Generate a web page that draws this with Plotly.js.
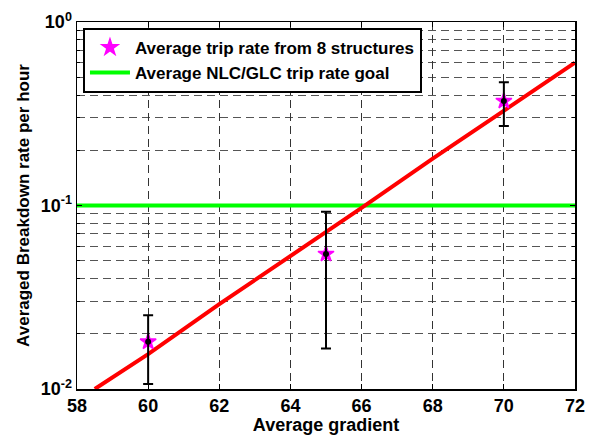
<!DOCTYPE html>
<html>
<head>
<meta charset="utf-8">
<script src="https://cdn.plot.ly/plotly-3.0.1.min.js"></script>
<style>html,body{margin:0;padding:0;background:#fff;}#chart{width:590px;height:435px;}</style>
</head>
<body>
<div id="chart"></div>
<script>
// Measured trip rates (average of 8 structures)
const gradients = [60, 65, 70];
const tripRate = [0.0181, 0.0544, 0.371];
const tripUpper = [0.0252, 0.0925, 0.469];
const tripLower = [0.01065, 0.0166, 0.271];

// Fitted breakdown rate curve
const fitX = [58.5, 60, 62, 64, 66, 68, 70, 72];
const fitY = [0.010, 0.0155, 0.029, 0.053, 0.097, 0.18, 0.33, 0.60];

// Goal line
const goalX = [58, 72];
const goalY = [0.1, 0.1];

// Tick labels
const xTicks = [58, 60, 62, 64, 66, 68, 70, 72];
const yTickVals = [0.01, 0.1, 1];
const yTickText = ['10<sup>-2</sup>', '10<sup>-1</sup>', '10<sup>0</sup>'];

const minorVals = [];
[0.01, 0.1].forEach(d => { for (let k = 2; k <= 9; k++) minorVals.push(d * k); });

const FONT = 'Liberation Sans, Arial, sans-serif';

const traces = [
  {x: goalX, y: goalY, mode: 'lines', name: 'Average NLC/GLC trip rate goal',
   line: {color: '#00ff00', width: 4}, legendrank: 2},
  {x: fitX, y: fitY, mode: 'lines', showlegend: false,
   line: {color: '#ff0000', width: 4}},
  {x: gradients, y: tripRate, mode: 'markers', name: 'Average trip rate from 8 structures',
   marker: {symbol: 'star', size: 12, color: '#ff00ff', line: {color: '#ff00ff', width: 1.5}}, legendrank: 1},
  {x: gradients, y: tripRate, mode: 'markers', showlegend: false,
   marker: {symbol: 'circle', size: 6, color: '#000'},
   error_y: {type: 'data', symmetric: false,
     array: tripUpper.map((u, i) => u - tripRate[i]),
     arrayminus: tripLower.map((l, i) => tripRate[i] - l),
     color: '#000', thickness: 2, width: 5}}
];

const gridDash = '8px,5px';
const layout = {
  width: 590, height: 435,
  margin: {l: 77, r: 15, t: 22, b: 46},
  paper_bgcolor: '#fff', plot_bgcolor: '#fff',
  font: {family: FONT, color: '#000'},
  showlegend: true,
  legend: {x: 0.012, y: 0.984, xanchor: 'left', yanchor: 'top',
    bgcolor: '#fff', bordercolor: '#000', borderwidth: 2,
    font: {family: FONT, size: 17, weight: 'bold', color: '#000'},
    itemwidth: 40, tracegroupgap: 0},
  xaxis: {
    range: [58, 72], tickvals: xTicks, ticktext: xTicks.map(String),
    ticks: 'inside', ticklen: 5, tickwidth: 1, tickcolor: '#000',
    showline: true, linecolor: '#000', linewidth: 1.5, mirror: 'allticks',
    showgrid: true, gridcolor: '#333', gridwidth: 1, griddash: gridDash,
    zeroline: false,
    tickfont: {family: FONT, size: 18, weight: 'bold', color: '#000'},
    title: {text: 'Average gradient', standoff: 2,
      font: {family: FONT, size: 18, weight: 'bold', color: '#000'}}
  },
  yaxis: {
    type: 'log', range: [-2, 0],
    tickmode: 'array', tickvals: yTickVals, ticktext: yTickText,
    ticks: 'inside', ticklen: 5, tickwidth: 1, tickcolor: '#000',
    showline: true, linecolor: '#000', linewidth: 1.5, mirror: 'allticks',
    showgrid: true, gridcolor: '#333', gridwidth: 1, griddash: gridDash,
    zeroline: false,
    minor: {tickmode: 'array', tickvals: minorVals, ticks: 'inside', ticklen: 3,
      tickcolor: '#000', showgrid: true, gridcolor: '#555', gridwidth: 1, griddash: gridDash},
    tickfont: {family: FONT, size: 18, weight: 'bold', color: '#000'},
    title: {text: 'Averaged Breakdown rate per hour', standoff: 6,
      font: {family: FONT, size: 17, weight: 'bold', color: '#000'}}
  }
};

Plotly.newPlot('chart', traces, layout, {displayModeBar: false, staticPlot: true});
</script>
</body>
</html>
